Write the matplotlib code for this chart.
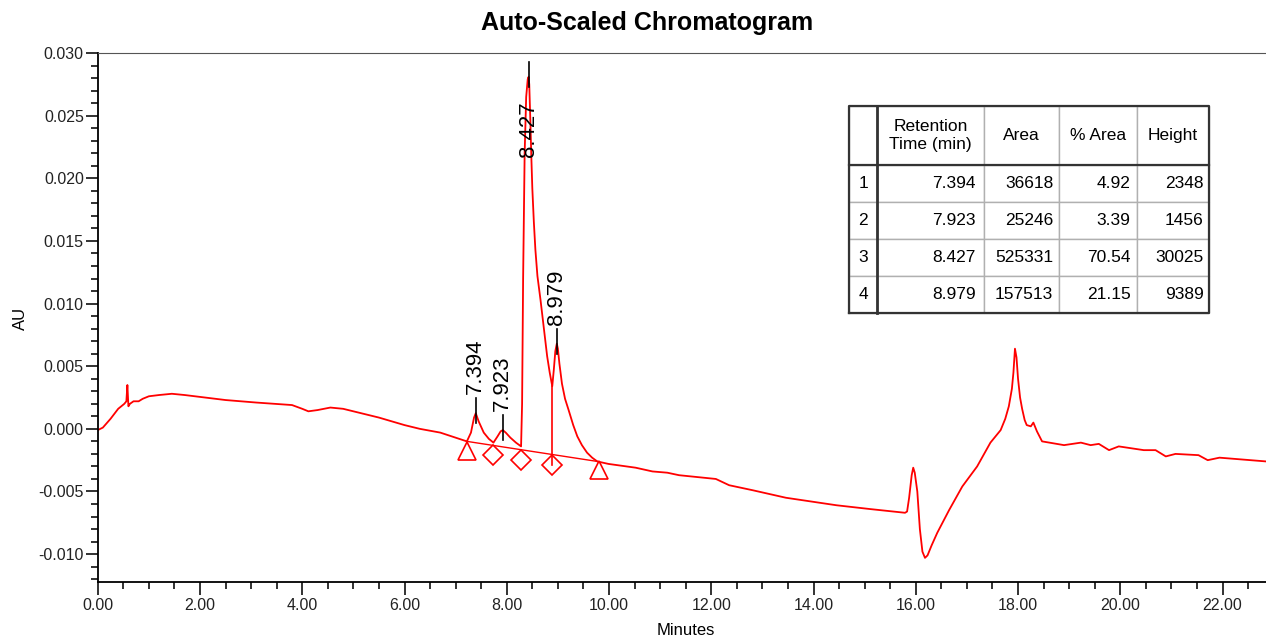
import numpy as np
import matplotlib
matplotlib.use('Agg')
import matplotlib.pyplot as plt
from matplotlib.ticker import MultipleLocator, FormatStrFormatter

plt.rcParams['font.family'] = ['Liberation Sans', 'DejaVu Sans']
plt.rcParams['axes.unicode_minus'] = False

# chromatogram trace (minutes, AU)
t = [0.00, 0.10, 0.25, 0.40, 0.52, 0.56, 0.58, 0.60, 0.63, 0.70, 0.80, 0.88, 1.00, 1.20, 1.45,
     1.70, 2.10, 2.50, 2.80, 3.10, 3.45, 3.80, 4.00, 4.12, 4.30, 4.55, 4.80, 5.10, 5.50, 6.00,
     6.30, 6.70, 7.00, 7.22, 7.30, 7.36, 7.394, 7.45, 7.55, 7.65, 7.74, 7.82, 7.88, 7.923, 7.98,
     8.07, 8.18, 8.28, 8.30, 8.32, 8.35, 8.38, 8.41, 8.427, 8.44, 8.46, 8.48, 8.50, 8.53, 8.56,
     8.60, 8.66, 8.72, 8.79, 8.84, 8.89, 8.92, 8.95, 8.979, 9.00, 9.03, 9.08, 9.14, 9.21, 9.30,
     9.38, 9.47, 9.57, 9.67, 9.77, 9.99, 10.52, 10.85, 11.14, 11.37, 11.84, 12.09, 12.35, 12.81,
     13.46, 13.79, 14.45, 15.10, 15.79, 15.83, 15.87, 15.92, 15.95, 15.98, 16.03, 16.08, 16.13,
     16.18, 16.23, 16.31, 16.42, 16.65, 16.91, 17.20, 17.46, 17.66, 17.75, 17.82, 17.88, 17.91,
     17.94, 17.97, 18.00, 18.04, 18.08, 18.13, 18.17, 18.25, 18.30, 18.37, 18.47, 18.90, 19.23,
     19.42, 19.58, 19.78, 19.97, 20.46, 20.69, 20.89, 21.08, 21.53, 21.71, 21.94, 22.85]
au = [-0.0001, 0.0001, 0.0008, 0.0016, 0.0020, 0.0022, 0.0035, 0.0018, 0.0020, 0.0022, 0.0022, 0.0024,
      0.0026, 0.0027, 0.0028, 0.0027, 0.0025, 0.0023, 0.0022, 0.0021, 0.0020, 0.0019, 0.0016, 0.0014,
      0.0015, 0.0017, 0.0016, 0.0013, 0.0009, 0.0003, 0.0000, -0.0003, -0.0007, -0.0010, -0.0003,
      0.0009, 0.00125, 0.0006, -0.0003, -0.0008, -0.0011, -0.0006, -0.0002, -0.0001, -0.0003, -0.0007,
      -0.0011, -0.0014, 0.0020, 0.0120, 0.0220, 0.0265, 0.0279, 0.0281, 0.0275, 0.0248, 0.0218,
      0.0192, 0.0165, 0.0143, 0.0122, 0.0103, 0.0082, 0.0058, 0.0045, 0.0034, 0.0047, 0.0062, 0.0068,
      0.0064, 0.0052, 0.0036, 0.0024, 0.0015, 0.0003, -0.0006, -0.0013, -0.0019, -0.0023, -0.0026,
      -0.0028, -0.0031, -0.0034, -0.0035, -0.0037, -0.0039, -0.0040, -0.0045, -0.0049, -0.0055,
      -0.0057, -0.0061, -0.0064, -0.0067, -0.0066, -0.0055, -0.0037, -0.0031, -0.0035, -0.0050,
      -0.0080, -0.0098, -0.0103, -0.0101, -0.0093, -0.0083, -0.0065, -0.0046, -0.0030, -0.0011,
      -0.0001, 0.0008, 0.0018, 0.0032, 0.0045, 0.0064, 0.0057, 0.0040, 0.0025, 0.0016, 0.0007,
      0.0003, 0.0002, 0.0005, -0.0002, -0.0010, -0.0013, -0.0011, -0.0013, -0.0012, -0.0017,
      -0.0014, -0.0017, -0.0017, -0.0022, -0.0020, -0.0021, -0.0025, -0.0023, -0.0026]

# integration marks
peak_times = [7.394, 7.923, 8.427, 8.979]
tri_t = [7.22, 9.80]
tri_y = [-0.0018, -0.0033]
dia_t = [7.74, 8.27, 8.89]
dia_y = [-0.0021, -0.0025, -0.0029]
base_t = [7.22, 9.77]
base_y = [-0.0010, -0.0026]
drop_t = 8.89
drop_y = [0.0034, -0.0029]

# peak table
row_ids = ['1', '2', '3', '4']
ret_time = ['7.394', '7.923', '8.427', '8.979']
area = ['36618', '25246', '525331', '157513']
pct_area = ['4.92', '3.39', '70.54', '21.15']
height = ['2348', '1456', '30025', '9389']
col_labels = ['', 'Retention\nTime (min)', 'Area', '% Area', 'Height']

red = '#ff0000'
fig = plt.figure(figsize=(12.66, 6.39), dpi=100)
ax = fig.add_axes([0.0772, 0.0897, 0.9228, 0.8273])

ax.plot(t, au, color=red, lw=1.3)
ax.plot(base_t, base_y, color=red, lw=1.0)
ax.plot([drop_t, drop_t], drop_y, color=red, lw=1.2)
ax.plot(tri_t, tri_y, ls='none', marker='^', ms=13, mfc='none', mec=red, mew=1.2)
ax.plot(dia_t, dia_y, ls='none', marker='D', ms=10.5, mfc='none', mec=red, mew=1.2)

for pt in peak_times:
    apex = np.interp(pt, t, au)
    ax.plot([pt, pt], [apex - 0.0008, apex + 0.0012], color='black', lw=1.2)
    ybot = min(apex + 0.0015, 0.0217)
    ax.text(pt, ybot, f'{pt:.3f}', rotation=90, ha='center', va='bottom', fontsize=16)

ax.set_xlim(0, 22.85)
ax.set_ylim(-0.0122, 0.030)
ax.xaxis.set_major_locator(MultipleLocator(2))
ax.xaxis.set_minor_locator(MultipleLocator(0.5))
ax.yaxis.set_major_locator(MultipleLocator(0.005))
ax.yaxis.set_minor_locator(MultipleLocator(0.001))
ax.xaxis.set_major_formatter(FormatStrFormatter('%.2f'))
ax.yaxis.set_major_formatter(FormatStrFormatter('%.3f'))
ax.tick_params(which='major', direction='out', length=9, width=1.3, labelsize=11.5, colors='#222222')
ax.tick_params(axis='y', which='major', pad=1)
ax.tick_params(axis='x', which='major', pad=3)
ax.tick_params(which='minor', direction='out', length=5, width=1.3, colors='#222222')
ax.spines['right'].set_visible(False)
ax.spines['top'].set_color('#555555')
ax.spines['left'].set_linewidth(1.3)
ax.spines['bottom'].set_linewidth(1.3)

fig.text(0.511, 0.964, 'Auto-Scaled Chromatogram', ha='center', va='center', fontsize=18, fontweight='bold')
fig.text(0.016, 0.502, 'AU', rotation=90, ha='center', va='center', fontsize=12)
fig.text(0.542, 0.014, 'Minutes', ha='center', va='center', fontsize=12)

# table
tax = fig.add_axes([0.6709, 0.5097, 0.2844, 0.3249])
tax.axis('off')
cells = [[r, a, b, c, d] for r, a, b, c, d in zip(row_ids, ret_time, area, pct_area, height)]
widths = [27.4, 107.3, 75.3, 77.4, 72.6]
tbl = tax.table(cellText=cells, colLabels=col_labels, colWidths=[w / sum(widths) for w in widths],
                cellLoc='right', bbox=[0, 0, 1, 1])
tbl.auto_set_font_size(False)
for (r, c), cell in tbl.get_celld().items():
    cell.set_edgecolor('#b0b0b0')
    cell.set_linewidth(1.0)
    cell.get_text().set_fontsize(12.5)
    cell.set_height(59.3 if r == 0 else 37.0)
    if r == 0 or c == 0:
        cell.get_text().set_ha('center')
        cell._loc = 'center'
        cell.get_text().set_multialignment('center')
    cell.PAD = 0.08

hdr = 59.3 / (59.3 + 4 * 37.0)
c0 = widths[0] / sum(widths)
tax.plot([0, 1, 1, 0, 0], [0, 0, 1, 1, 0], color='#333333', lw=1.6, transform=tax.transAxes, clip_on=False)
tax.plot([0, 1], [1 - hdr, 1 - hdr], color='#333333', lw=1.6, transform=tax.transAxes, clip_on=False)
tax.plot([c0, c0], [0, 1], color='#333333', lw=2.0, transform=tax.transAxes, clip_on=False)

fig.savefig('out.png', dpi=100)
